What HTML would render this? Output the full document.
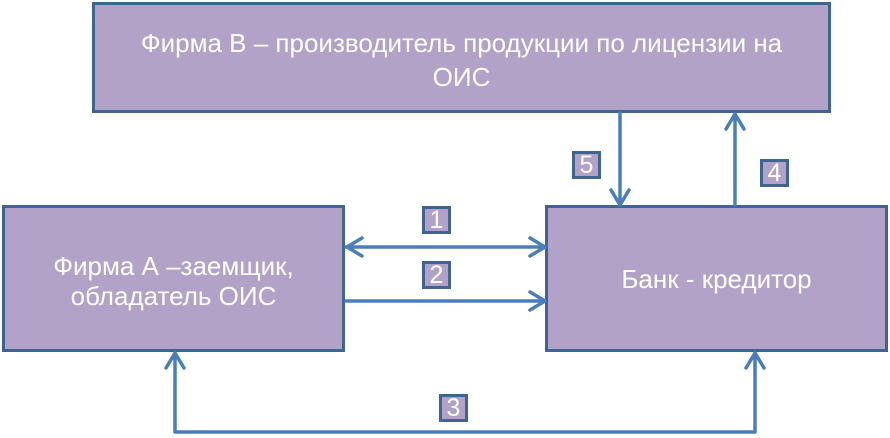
<!DOCTYPE html>
<html><head><meta charset="utf-8"><style>
body{margin:0;width:890px;height:438px;background:#fff;position:relative;overflow:hidden;font-family:"Liberation Sans","DejaVu Sans",sans-serif}
.b{position:absolute;background:#b3a2c7;border:3px solid #3f6492;box-sizing:border-box;color:#fff;display:flex;align-items:center;justify-content:center;text-align:center;font-size:26px;line-height:34px;white-space:nowrap}
.n{position:absolute;background:#b3a2c7;border:3px solid #3f6492;box-sizing:border-box;color:#fff;font-size:25px;text-align:center;line-height:22px;width:29px;height:28px}
svg{position:absolute;left:0;top:0}
</style></head><body>
<div class="b" style="left:92px;top:2px;width:739px;height:111px;padding-top:4px">Фирма В – производитель продукции по лицензии на<br>ОИС</div>
<div class="b" style="left:2px;top:205px;width:343px;height:147px;line-height:30px;padding-top:5px">Фирма А –заемщик,<br>обладатель ОИС</div>
<div class="b" style="left:545px;top:205px;width:343px;height:147px">Банк - кредитор</div>
<svg width="890" height="438" fill="none" stroke="#4a7ebb" stroke-width="3.5" stroke-linecap="round" stroke-linejoin="round">
<path d="M346 247H545M362 238l-15 9 15 9M530 238l15 9-15 9"/>
<path d="M346 301H545M530 292l15 9-15 9"/>
<path d="M620 113V205M611 190l9 15 9-15"/>
<path d="M735 205V114M726 129l9-15 9 15"/>
<path d="M175 353V432H755V353M166 368l9-15 9 15M746 368l9-15 9 15"/>
</svg>
<div class="n" style="left:422px;top:206px">1</div>
<div class="n" style="left:422px;top:261px">2</div>
<div class="n" style="left:572px;top:151px">5</div>
<div class="n" style="left:760px;top:159px">4</div>
<div class="n" style="left:439px;top:394px">3</div>
</body></html>
